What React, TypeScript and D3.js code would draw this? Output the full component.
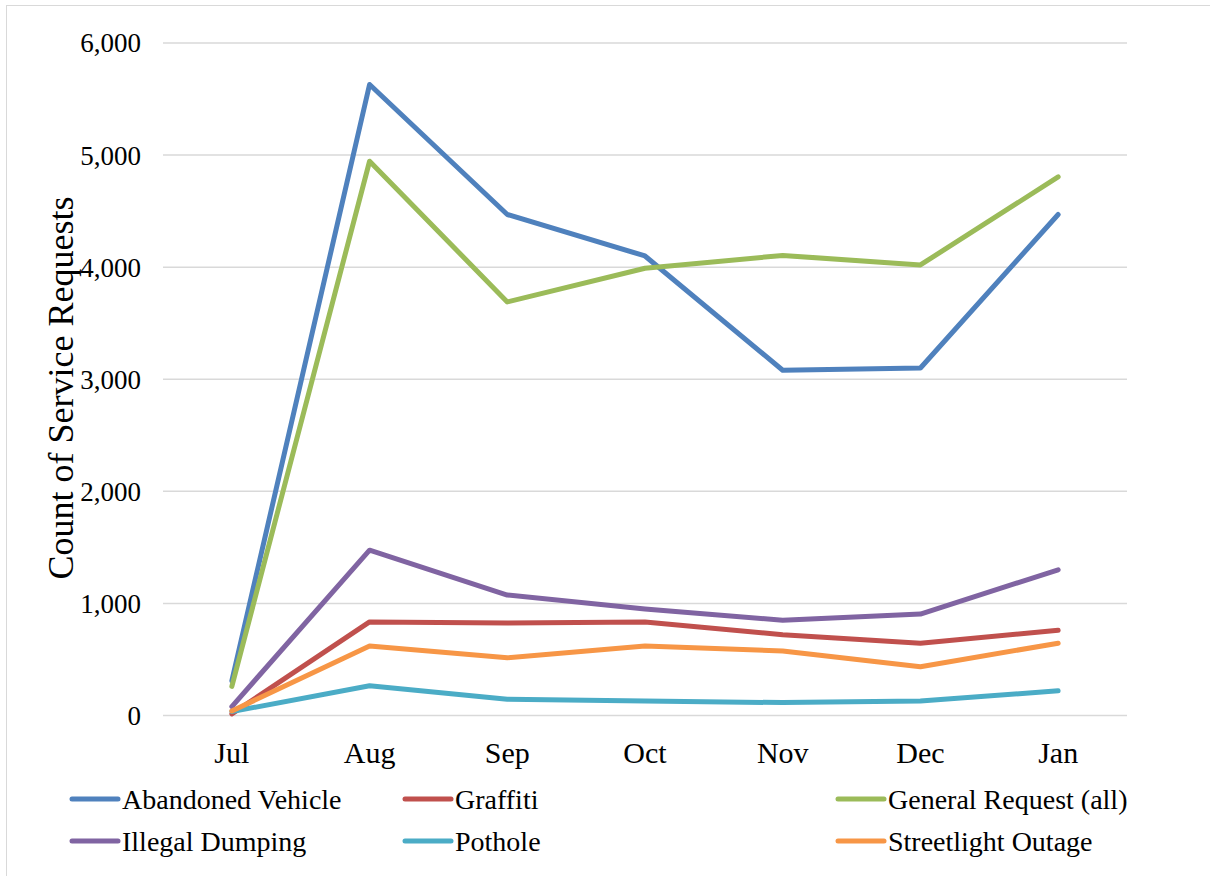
import React, { useEffect, useRef } from "react";
import * as d3 from "d3";

const months = ["Jul", "Aug", "Sep", "Oct", "Nov", "Dec", "Jan"];
const abandonedVehicle = [310, 5630, 4470, 4100, 3080, 3100, 4470];
const graffiti = [15, 835, 825, 835, 720, 645, 760];
const generalRequest = [260, 4945, 3690, 3990, 4105, 4020, 4805];
const illegalDumping = [80, 1475, 1075, 950, 850, 905, 1300];
const pothole = [35, 265, 145, 130, 115, 130, 220];
const streetlightOutage = [40, 620, 515, 620, 575, 435, 645];
const yTicks = [0, 1000, 2000, 3000, 4000, 5000, 6000];

const series = [
  { name: "Abandoned Vehicle", values: abandonedVehicle, color: "#4F81BD" },
  { name: "Graffiti", values: graffiti, color: "#C0504D" },
  { name: "General Request (all)", values: generalRequest, color: "#9BBB59" },
  { name: "Illegal Dumping", values: illegalDumping, color: "#8064A2" },
  { name: "Pothole", values: pothole, color: "#4BACC6" },
  { name: "Streetlight Outage", values: streetlightOutage, color: "#F79646" },
];

const App: React.FC = () => {
  const svgRef = useRef<SVGSVGElement | null>(null);

  useEffect(() => {
    if (!svgRef.current) return;
    const W = 1210, H = 876;
    const svg = d3.select(svgRef.current).attr("width", W).attr("height", H);
    svg.selectAll("*").remove();
    const font = "'Liberation Serif', 'Times New Roman', serif";

    // outer chart frame
    svg.append("rect")
      .attr("x", 6.5).attr("y", 5.5)
      .attr("width", W).attr("height", H)
      .attr("fill", "#fff").attr("stroke", "#d9d9d9");

    const left = 163, right = 1127, top = 43, bottom = 715.5;

    const x = d3.scaleBand<string>().domain(months).range([left, right]);
    const y = d3.scaleLinear().domain([0, 6000]).range([bottom, top]);

    // gridlines
    svg.append("g")
      .selectAll("line")
      .data(yTicks)
      .enter()
      .append("line")
      .attr("x1", left).attr("x2", right)
      .attr("y1", d => y(d)).attr("y2", d => y(d))
      .attr("stroke", "#d9d9d9").attr("stroke-width", 1.5);

    // y tick labels
    svg.append("g")
      .selectAll("text")
      .data(yTicks)
      .enter()
      .append("text")
      .attr("x", 141)
      .attr("y", d => y(d))
      .attr("dy", "0.35em")
      .attr("text-anchor", "end")
      .attr("font-family", font)
      .attr("font-size", 27)
      .text(d => d3.format(",")(d));

    // x tick labels
    svg.append("g")
      .selectAll("text")
      .data(months)
      .enter()
      .append("text")
      .attr("x", d => x(d)! + x.bandwidth() / 2)
      .attr("y", 763)
      .attr("text-anchor", "middle")
      .attr("font-family", font)
      .attr("font-size", 30)
      .text(d => d);

    // y axis title
    svg.append("text")
      .attr("transform", `translate(73,388) rotate(-90)`)
      .attr("text-anchor", "middle")
      .attr("font-family", font)
      .attr("font-size", 36)
      .text("Count of Service Requests");

    const line = d3.line<number>()
      .x((_, i) => x(months[i])! + x.bandwidth() / 2)
      .y(d => y(d));

    svg.append("g")
      .selectAll("path")
      .data(series)
      .enter()
      .append("path")
      .attr("d", d => line(d.values))
      .attr("fill", "none")
      .attr("stroke", d => d.color)
      .attr("stroke-width", 5)
      .attr("stroke-linecap", "round")
      .attr("stroke-linejoin", "round");

    // legend
    const colX = [70, 403, 836];
    const rowY = [799, 841];
    const lg = svg.append("g")
      .selectAll("g")
      .data(series)
      .enter()
      .append("g")
      .attr("transform", (_, i) => `translate(${colX[i % 3]},${rowY[Math.floor(i / 3)]})`);
    lg.append("line")
      .attr("x1", 2).attr("x2", 48)
      .attr("y1", 0).attr("y2", 0)
      .attr("stroke", d => d.color)
      .attr("stroke-width", 5)
      .attr("stroke-linecap", "round");
    lg.append("text")
      .attr("x", 52)
      .attr("y", 10)
      .attr("font-family", font)
      .attr("font-size", 28)
      .text(d => d.name);
  }, []);

  return (
    <svg ref={svgRef} style={{ position: "absolute", left: 0, top: 0 }}></svg>
  );
};

export default App;
